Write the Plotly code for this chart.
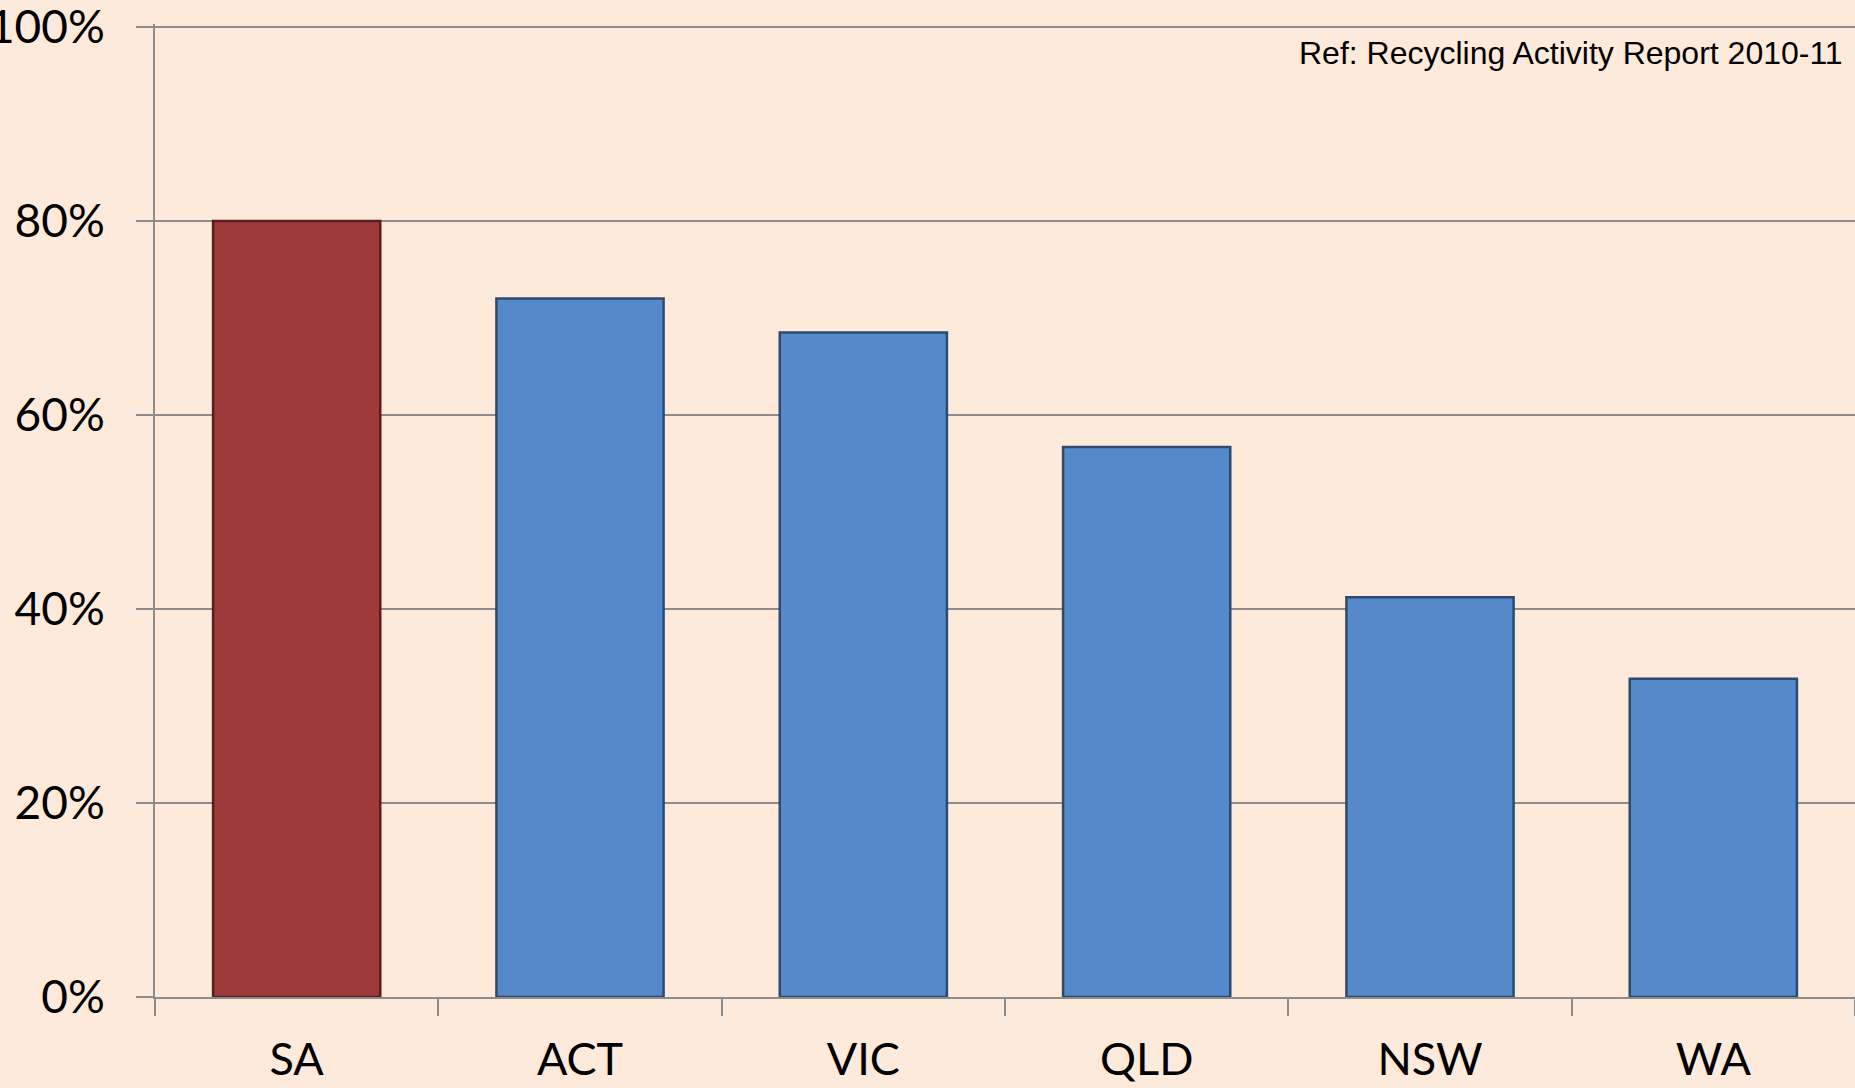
import plotly.graph_objects as go

states = ["SA", "ACT", "VIC", "QLD", "NSW", "WA"]
recycling_rate = [0.80, 0.72, 0.685, 0.567, 0.412, 0.328]
bar_colors = ["#9E3B3A", "#5589C9", "#5589C9", "#5589C9", "#5589C9", "#5589C9"]
edge_colors = ["#5A1E1D", "#2C4A6E", "#2C4A6E", "#2C4A6E", "#2C4A6E", "#2C4A6E"]
y_ticks = [0, 0.2, 0.4, 0.6, 0.8, 1.0]
y_tick_labels = ["0%", "20%", "40%", "60%", "80%", "100%"]
source_note = "Ref: Recycling Activity Report 2010-11"

bg = "#FDEADA"
grid = "#8C8C8C"

fig = go.Figure()
fig.add_trace(go.Bar(
    x=states, y=recycling_rate,
    marker=dict(color=bar_colors, line=dict(color=edge_colors, width=2.5)),
    hoverinfo="x+y",
))

fig.update_layout(
    width=1855, height=1088,
    paper_bgcolor=bg, plot_bgcolor=bg,
    margin=dict(l=155, r=0, t=24, b=91, autoexpand=False),
    bargap=0.41,
    showlegend=False,
    font=dict(family="Lato", size=45, color="#000000"),
)
fig.update_xaxes(
    automargin=False,
    showline=True, linecolor=grid, linewidth=2,
    ticks="outside", tickson="boundaries", ticklen=17, tickwidth=2, tickcolor=grid,
    showgrid=False,
    tickfont=dict(family="Lato", size=45, color="#000000"),
    ticklabelstandoff=22,
)
fig.update_yaxes(
    automargin=False,
    range=[0, 1.003], tickvals=y_ticks, ticktext=y_tick_labels,
    showline=True, linecolor=grid, linewidth=2,
    ticks="outside", ticklen=17, tickwidth=2, tickcolor=grid,
    showgrid=True, gridcolor=grid, gridwidth=2,
    zeroline=False,
    tickfont=dict(family="Lato", size=46, color="#000000"),
    ticklabelstandoff=22,
    ticklabeloverflow="allow",
)
fig.add_annotation(
    text=source_note, xref="paper", yref="paper",
    x=0.994, y=0.97, xanchor="right", yanchor="middle",
    showarrow=False, font=dict(family="Liberation Sans", size=32, color="#000000"),
)
fig.write_html(
    "out.html",
    config={"displayModeBar": False},
    post_script="document.body.style.margin='0';document.body.style.overflow='hidden';",
)
